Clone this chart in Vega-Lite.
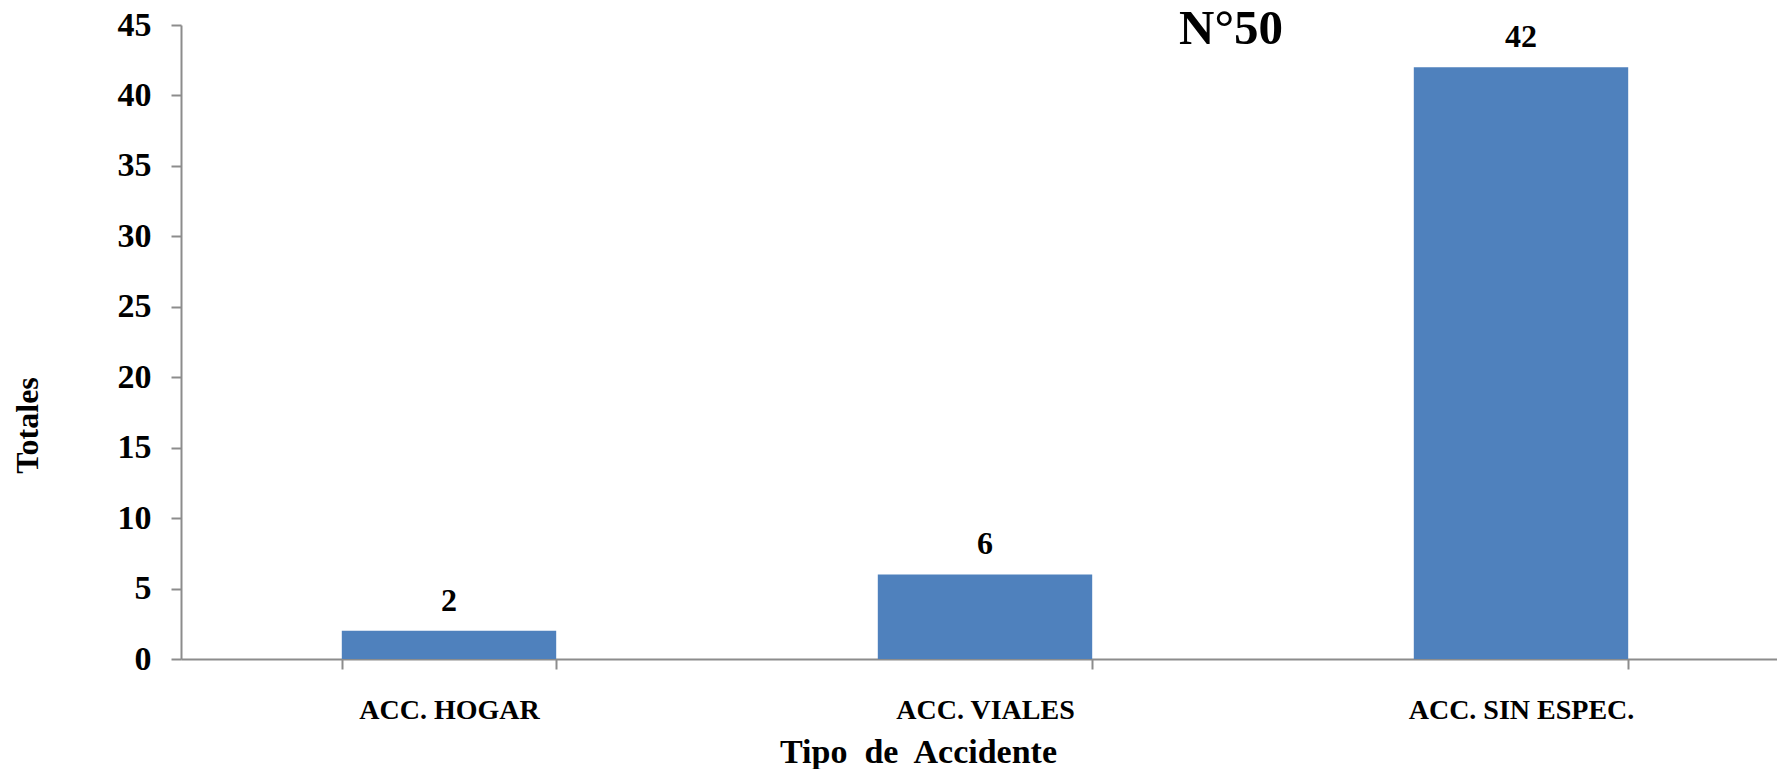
{
  "$schema": "https://vega.github.io/schema/vega-lite/v6.json",
  "width": 1608,
  "height": 634,
  "autosize": {"type": "none"},
  "padding": {"left": 181, "top": 25, "right": -12, "bottom": 110},
  "background": "white",
  "title": {
    "text": "N°50",
    "font": "Liberation Serif",
    "fontSize": 49,
    "fontWeight": "bold",
    "color": "black",
    "anchor": "middle",
    "frame": "group",
    "baseline": "alphabetic",
    "offset": -85,
    "dx": 246
  },
  "data": {
    "values": [
      {"tipo": "ACC. HOGAR", "total": 2},
      {"tipo": "ACC. VIALES", "total": 6},
      {"tipo": "ACC. SIN ESPEC.", "total": 42}
    ]
  },
  "config": {
    "view": {"stroke": null},
    "axis": {
      "labelFont": "Liberation Serif",
      "labelFontWeight": "bold",
      "labelColor": "black",
      "titleFont": "Liberation Serif",
      "titleFontWeight": "bold",
      "titleColor": "black",
      "domainColor": "#8c8c8c",
      "domainWidth": 2,
      "tickColor": "#8c8c8c",
      "tickWidth": 2,
      "tickSize": 10,
      "grid": false
    }
  },
  "encoding": {
    "x": {
      "field": "tipo",
      "type": "nominal",
      "sort": null,
      "scale": {"paddingInner": 0.6, "paddingOuter": 0.3},
      "axis": {
        "title": "Tipo\u00a0 de\u00a0 Accidente",
        "labelAngle": 0,
        "labelFontSize": 28,
        "labelPadding": 27,
        "labelLimit": 0,
        "tickBand": "extent",
        "titleFontSize": 34,
        "titleX": 737,
        "titleY": 103,
        "titleBaseline": "alphabetic",
        "titleAlign": "center"
      }
    },
    "y": {
      "field": "total",
      "type": "quantitative",
      "scale": {"domain": [0, 45], "nice": false},
      "axis": {
        "title": "Totales",
        "values": [0, 5, 10, 15, 20, 25, 30, 35, 40, 45],
        "labelFontSize": 34,
        "labelPadding": 20,
        "titleFontSize": 32,
        "titleX": -144,
        "titleY": 400,
        "titleBaseline": "alphabetic",
        "titleAlign": "center",
        "titleAngle": -90
      }
    }
  },
  "layer": [
    {"mark": {"type": "bar", "color": "#4F81BD"}},
    {
      "mark": {
        "type": "text",
        "font": "Liberation Serif",
        "fontSize": 32,
        "fontWeight": "bold",
        "color": "black",
        "baseline": "alphabetic",
        "dy": -20
      },
      "encoding": {"text": {"field": "total", "type": "quantitative"}}
    }
  ]
}
